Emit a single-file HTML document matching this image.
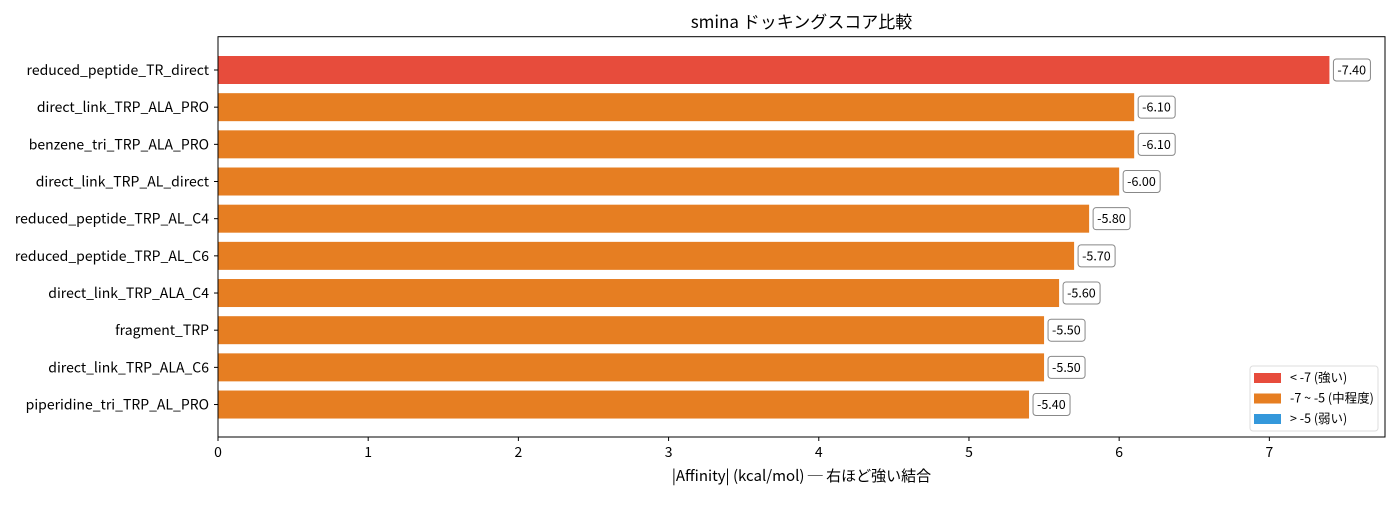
<!DOCTYPE html>
<html><head><meta charset="utf-8"><style>
body{margin:0;background:#fff;width:1400px;height:500px;overflow:hidden}
svg text{font-family:"Noto Sans CJK JP","Liberation Sans",sans-serif;fill:#000}
</style></head><body>
<svg id="chart" width="1400" height="500"></svg>
<script>
const categories=["reduced_peptide_TR_direct","direct_link_TRP_ALA_PRO","benzene_tri_TRP_ALA_PRO","direct_link_TRP_AL_direct","reduced_peptide_TRP_AL_C4","reduced_peptide_TRP_AL_C6","direct_link_TRP_ALA_C4","fragment_TRP","direct_link_TRP_ALA_C6","piperidine_tri_TRP_AL_PRO"];
const scores=[-7.4,-6.1,-6.1,-6.0,-5.8,-5.7,-5.6,-5.5,-5.5,-5.4];
const xTicks=[0,1,2,3,4,5,6,7];
const legendLabels=["< -7 (強い)","-7 ~ -5 (中程度)","> -5 (弱い)"];
const legendColors=["#e74c3c","#e67e22","#3498db"];
const NS="http://www.w3.org/2000/svg";
const svg=document.getElementById('chart');
const L=218,R=1385,T=36.7,B=437,XMAX=7.77;
const x=v=>L+v/XMAX*(R-L);
const band=37.17,y0=70;
const y=i=>y0+i*band;
function mk(t,a,p){const e=document.createElementNS(NS,t);for(const k in a)e.setAttribute(k,a[k]);(p||svg).appendChild(e);return e;}
const col=s=>s<-7?legendColors[0]:(s<=-5?legendColors[1]:legendColors[2]);
let t=mk('text',{x:(L+R)/2,y:28,'text-anchor':'middle','font-size':17});t.textContent='smina ドッキングスコア比較';


categories.forEach((c,i)=>{
 const v=Math.abs(scores[i]);
 const r=mk('rect',{x:L,y:y(i)-14,width:x(v)-L,height:28,fill:col(scores[i])});
 
 
 mk('line',{x1:L-4,x2:L,y1:y(i),y2:y(i),stroke:'#000'});
 const lt=mk('text',{x:L-9,y:y(i)+5,'text-anchor':'end','font-size':14});lt.textContent=c;
 
 
 const lbl=scores[i].toFixed(2);
 const bx=x(v)+4;
 const bg=mk('rect',{x:bx,y:y(i)-11,width:37,height:22,rx:3,fill:'#fff',stroke:'#888'});
 
 
 const vt=mk('text',{x:bx+4,y:y(i)+4.5,'font-size':12.5});vt.textContent=lbl;
 
 
});
xTicks.forEach(v=>{
 mk('line',{x1:x(v),x2:x(v),y1:B,y2:B+4,stroke:'#000'});
 const tt=mk('text',{x:x(v),y:B+20,'text-anchor':'middle','font-size':14});tt.textContent=v;
 
 
});
const fr=mk('rect',{x:L,y:T,width:R-L,height:B-T,fill:'none',stroke:'#000','stroke-width':1});


const xt=mk('text',{x:(L+R)/2,y:481,'text-anchor':'middle','font-size':15});xt.textContent='|Affinity| (kcal/mol) ─ 右ほど強い結合';


const lg=mk('g',{});


mk('rect',{x:1250,y:366,width:128,height:65,rx:3,fill:'#fff',stroke:'#ddd'},lg);
legendLabels.forEach((l,i)=>{
 const yy=377+i*20.5;
 mk('rect',{x:1254,y:yy-4,width:27,height:10,fill:legendColors[i]},lg);
 const e=mk('text',{x:1290,y:yy+5,'font-size':12.5},lg);e.textContent=l;
 
 
});
</script>
</body></html>
